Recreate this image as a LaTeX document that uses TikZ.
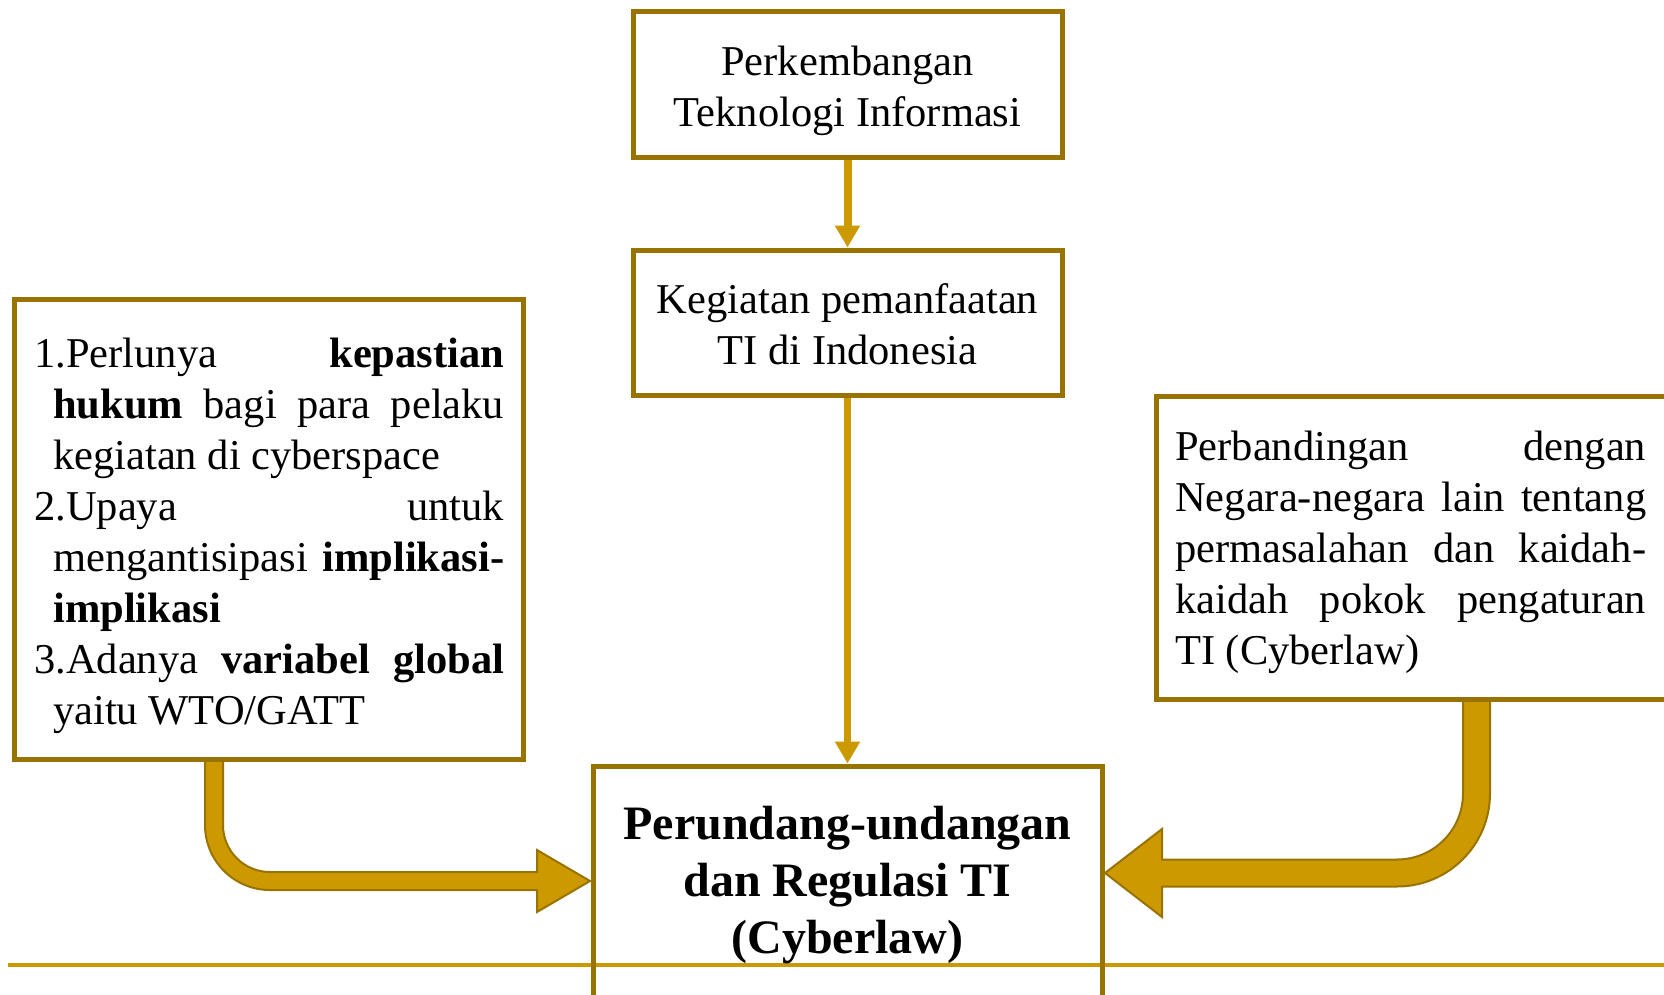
\documentclass[tikz,border=0pt]{standalone}
\usepackage{fontspec}
\setmainfont{Liberation Serif}
\usetikzlibrary{arrows.meta}
\definecolor{boxgold}{RGB}{153,115,0}
\definecolor{gold}{RGB}{204,153,0}
\newcommand{\myhang}{\hangindent=19pt\hangafter=1\relax}
\tikzset{
  box/.style={draw=boxgold, line width=5pt, inner sep=0pt, rectangle},
  conn/.style={draw=gold, line width=8pt, -{Triangle[width=24pt,length=22pt]}},
  fatarrow/.style={fill=gold, draw=boxgold, line width=2pt, line join=miter},
  txt/.style={font=\fontsize{42.5}{51}\selectfont},
  para/.style={txt, inner sep=0pt, align=justify, anchor=base west,
    execute at begin node={\tolerance=10000\hyphenpenalty=10000\parskip=0pt}},
}
\begin{document}
\begin{tikzpicture}[x=1pt,y=-1pt]
\useasboundingbox (0,0) rectangle (1664,994);
\clip (0,0) rectangle (1664,994);

% rule
\coordinate (ruleA) at (8,965);
\coordinate (ruleB) at (1664,965);
\draw[gold, line width=3.5pt] (ruleA) -- (ruleB);

% bent arrows
\draw[fatarrow] (205,758) -- (205,825) arc[start angle=180,end angle=90,radius=65]
  -- (537,890) -- (537,912) -- (590,881) -- (537,850) -- (537,872) -- (270,872)
  arc[start angle=90,end angle=180,radius=47] -- (223,758) -- cycle;
\draw[fatarrow] (1490,698) -- (1490,793.5) arc[start angle=0,end angle=90,radius=93]
  -- (1162,886.5) -- (1162,917) -- (1105,873) -- (1162,829) -- (1162,859.5) -- (1397,859.5)
  arc[start angle=90,end angle=0,radius=66] -- (1463,698) -- cycle;

% boxes
\node[box, minimum width=429pt, minimum height=146pt] (top) at (847.5,84) {};
\node[txt, align=center, inner sep=0pt] (ttext) at (847.5,91) {Perkembangan\\Teknologi Informasi};
\node[box, minimum width=429pt, minimum height=145pt] (mid) at (847.5,322.5) {};
\node[txt, align=center, inner sep=0pt] (mtext) at (847.5,324.5) {Kegiatan pemanfaatan\\TI di Indonesia};
\node[box, minimum width=509pt, minimum height=460pt] (lbox) at (268.5,529) {};
\node[box, minimum width=514pt, minimum height=303pt] (rbox) at (1413,548) {};
\node[box, minimum width=509pt, minimum height=239pt,
  font=\fontsize{48}{57}\selectfont\bfseries, align=center] (bot) at (847.5,885.5)
  {Perundang-undangan\\dan Regulasi TI\\(Cyberlaw)};

% texts
\node[para, text width=470pt] (ltext) at (34,367) {%
\myhang 1.Perlunya \textbf{kepastian}\linebreak \textbf{hukum} bagi para pelaku\linebreak kegiatan di cyberspace\par
\myhang 2.Upaya untuk\linebreak mengantisipasi \textbf{implikasi-}\linebreak\textbf{implikasi}\par
\myhang 3.Adanya \textbf{variabel global}\linebreak yaitu WTO/GATT\par};
\node[para, text width=471pt] (rtext) at (1175,460.5) {%
Perbandingan dengan\linebreak Negara-negara lain tentang\linebreak permasalahan dan kaidah-\linebreak kaidah pokok pengaturan\linebreak TI (Cyberlaw)};

% connectors
\draw[conn] (top.south) -- (mid.north);
\draw[conn, line width=7pt] (mid.south) -- (bot.north);
\end{tikzpicture}
\end{document}
